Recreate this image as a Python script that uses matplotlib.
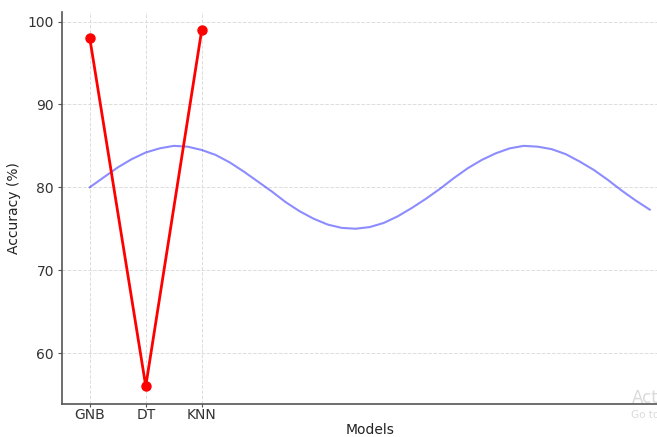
import matplotlib
matplotlib.use("Agg")
import matplotlib.pyplot as plt

models = ["GNB", "DT", "KNN"]
accuracy = [98, 56, 99]

# background wave values (x from 0 to 10 in steps of 0.25)
wave_x = [i * 0.25 for i in range(41)]
wave_y = [80.0, 81.2, 82.4, 83.4, 84.2, 84.7, 85.0, 84.9, 84.5, 83.9,
          83.0, 81.9, 80.7, 79.5, 78.2, 77.1, 76.2, 75.5, 75.1, 75.0,
          75.2, 75.7, 76.5, 77.5, 78.6, 79.8, 81.1, 82.3, 83.3, 84.1,
          84.7, 85.0, 84.9, 84.6, 84.0, 83.1, 82.1, 80.9, 79.6, 78.4, 77.3]

fig = plt.figure(figsize=(6.57, 4.37), dpi=100)
ax = fig.add_axes([0.094, 0.0755, 0.9376, 0.897])

ax.plot(wave_x, wave_y, color="blue", alpha=0.45, linewidth=1.5)
ax.plot(range(len(models)), accuracy, color="red", marker="o", markersize=6.5,
        linewidth=2)

ax.set_xlim(-0.5, 10.5)
ax.set_xticks(range(len(models)))
ax.set_xticklabels(models)
ax.set_yticks([60, 70, 80, 90, 100])
ax.grid(True, linestyle="--", color="#dddddd", linewidth=0.7)
ax.set_axisbelow(True)
for s in ["top", "right"]:
    ax.spines[s].set_visible(False)
for s in ["left", "bottom"]:
    ax.spines[s].set_color("#555555")
    ax.spines[s].set_linewidth(1.2)
ax.tick_params(axis="x", colors="#333333", labelsize=10, length=2, pad=1,
               color="#555555")
ax.tick_params(axis="y", colors="#333333", labelsize=10, length=3, pad=2.5,
               color="#555555")
ax.set_xlabel("Models", fontsize=10, color="#222222", labelpad=0.5)
ax.set_ylabel("Accuracy (%)", fontsize=10, color="#222222", labelpad=5)

fig.text(0.961, 0.068, "Acti", fontsize=12, color="#dadada", va="bottom")
fig.text(0.961, 0.038, "Go to", fontsize=7.5, color="#dadada", va="bottom")

fig.savefig("out.png", dpi=100)
